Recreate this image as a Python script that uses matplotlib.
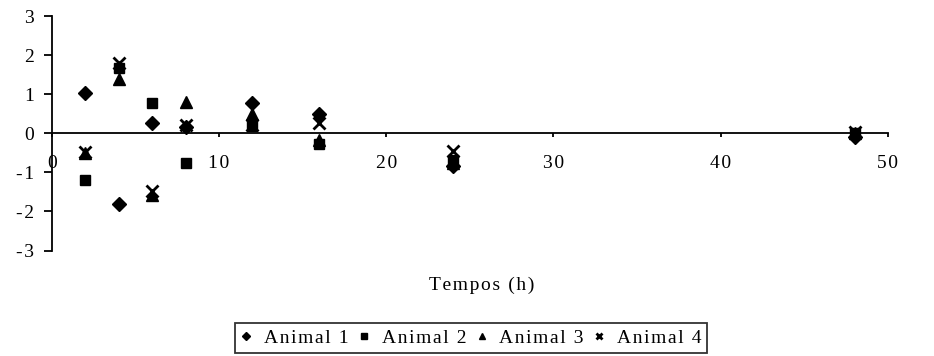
import matplotlib
matplotlib.use("Agg")
import matplotlib.pyplot as plt

times = [2, 4, 6, 8, 12, 16, 24, 48]
animal1 = [1.03, -1.80, 0.25, 0.17, 0.78, 0.50, -0.85, -0.10]
animal2 = [-1.20, 1.68, 0.77, -0.77, 0.19, -0.27, -0.68, 0.00]
animal3 = [-0.50, 1.38, -1.57, 0.80, 0.50, -0.18, -0.75, 0.00]
animal4 = [-0.48, 1.79, -1.47, 0.22, 0.20, 0.25, -0.45, 0.03]
labels = ["Animal 1", "Animal 2", "Animal 3", "Animal 4"]
xticks = [0, 10, 20, 30, 40, 50]
yticks = [-3, -2, -1, 0, 1, 2, 3]


def spaced(s):
    return "\u200a".join(s)


plt.rcParams['font.family'] = ['Liberation Serif', 'DejaVu Serif']

fig = plt.figure(figsize=(9.34, 3.56), dpi=100)
ax = fig.add_axes([0.0554, 0.2963, 0.8953, 0.6587])

ax.plot(times, animal1, linestyle='none', marker='D', ms=7.5, color='black', label=spaced(labels[0]))
ax.plot(times, animal2, linestyle='none', marker='s', ms=7.5, color='black', label=spaced(labels[1]))
ax.plot(times, animal3, linestyle='none', marker='^', ms=8.5, color='black', label=spaced(labels[2]))
ax.plot(times, animal4, linestyle='none', marker='x', ms=8.5, mew=2, color='black', label=spaced(labels[3]))

ax.set_xlim(0, 50)
ax.set_ylim(-3, 3)
ax.spines['top'].set_visible(False)
ax.spines['right'].set_visible(False)
ax.spines['bottom'].set_position(('data', 0))
ax.spines['bottom'].set_linewidth(1.3)
ax.spines['left'].set_linewidth(1.3)
ax.set_xticks(xticks)
ax.set_yticks(yticks)
ax.set_xticklabels([spaced(str(v)) for v in xticks])
ax.set_yticklabels([spaced(str(v)) for v in yticks])
ax.tick_params(axis='x', direction='out', length=3, width=1.3, pad=13, labelsize=14)
ax.tick_params(axis='y', direction='out', length=6, width=1.3, pad=7, labelsize=14)

fig.text(482 / 934, 1 - 285 / 356, spaced("Tempos (h)"), ha='center', va='center', fontsize=14)

leg = fig.legend(loc='center', bbox_to_anchor=(471 / 934, 1 - 338 / 356), ncol=4,
                 frameon=True, fancybox=False, edgecolor='black', fontsize=14,
                 markerscale=0.55, handlelength=0.6, handletextpad=0.6,
                 columnspacing=0.5, borderpad=0.3, borderaxespad=0)
leg.get_frame().set_linewidth(1.3)

fig.savefig("out.png", dpi=100)
